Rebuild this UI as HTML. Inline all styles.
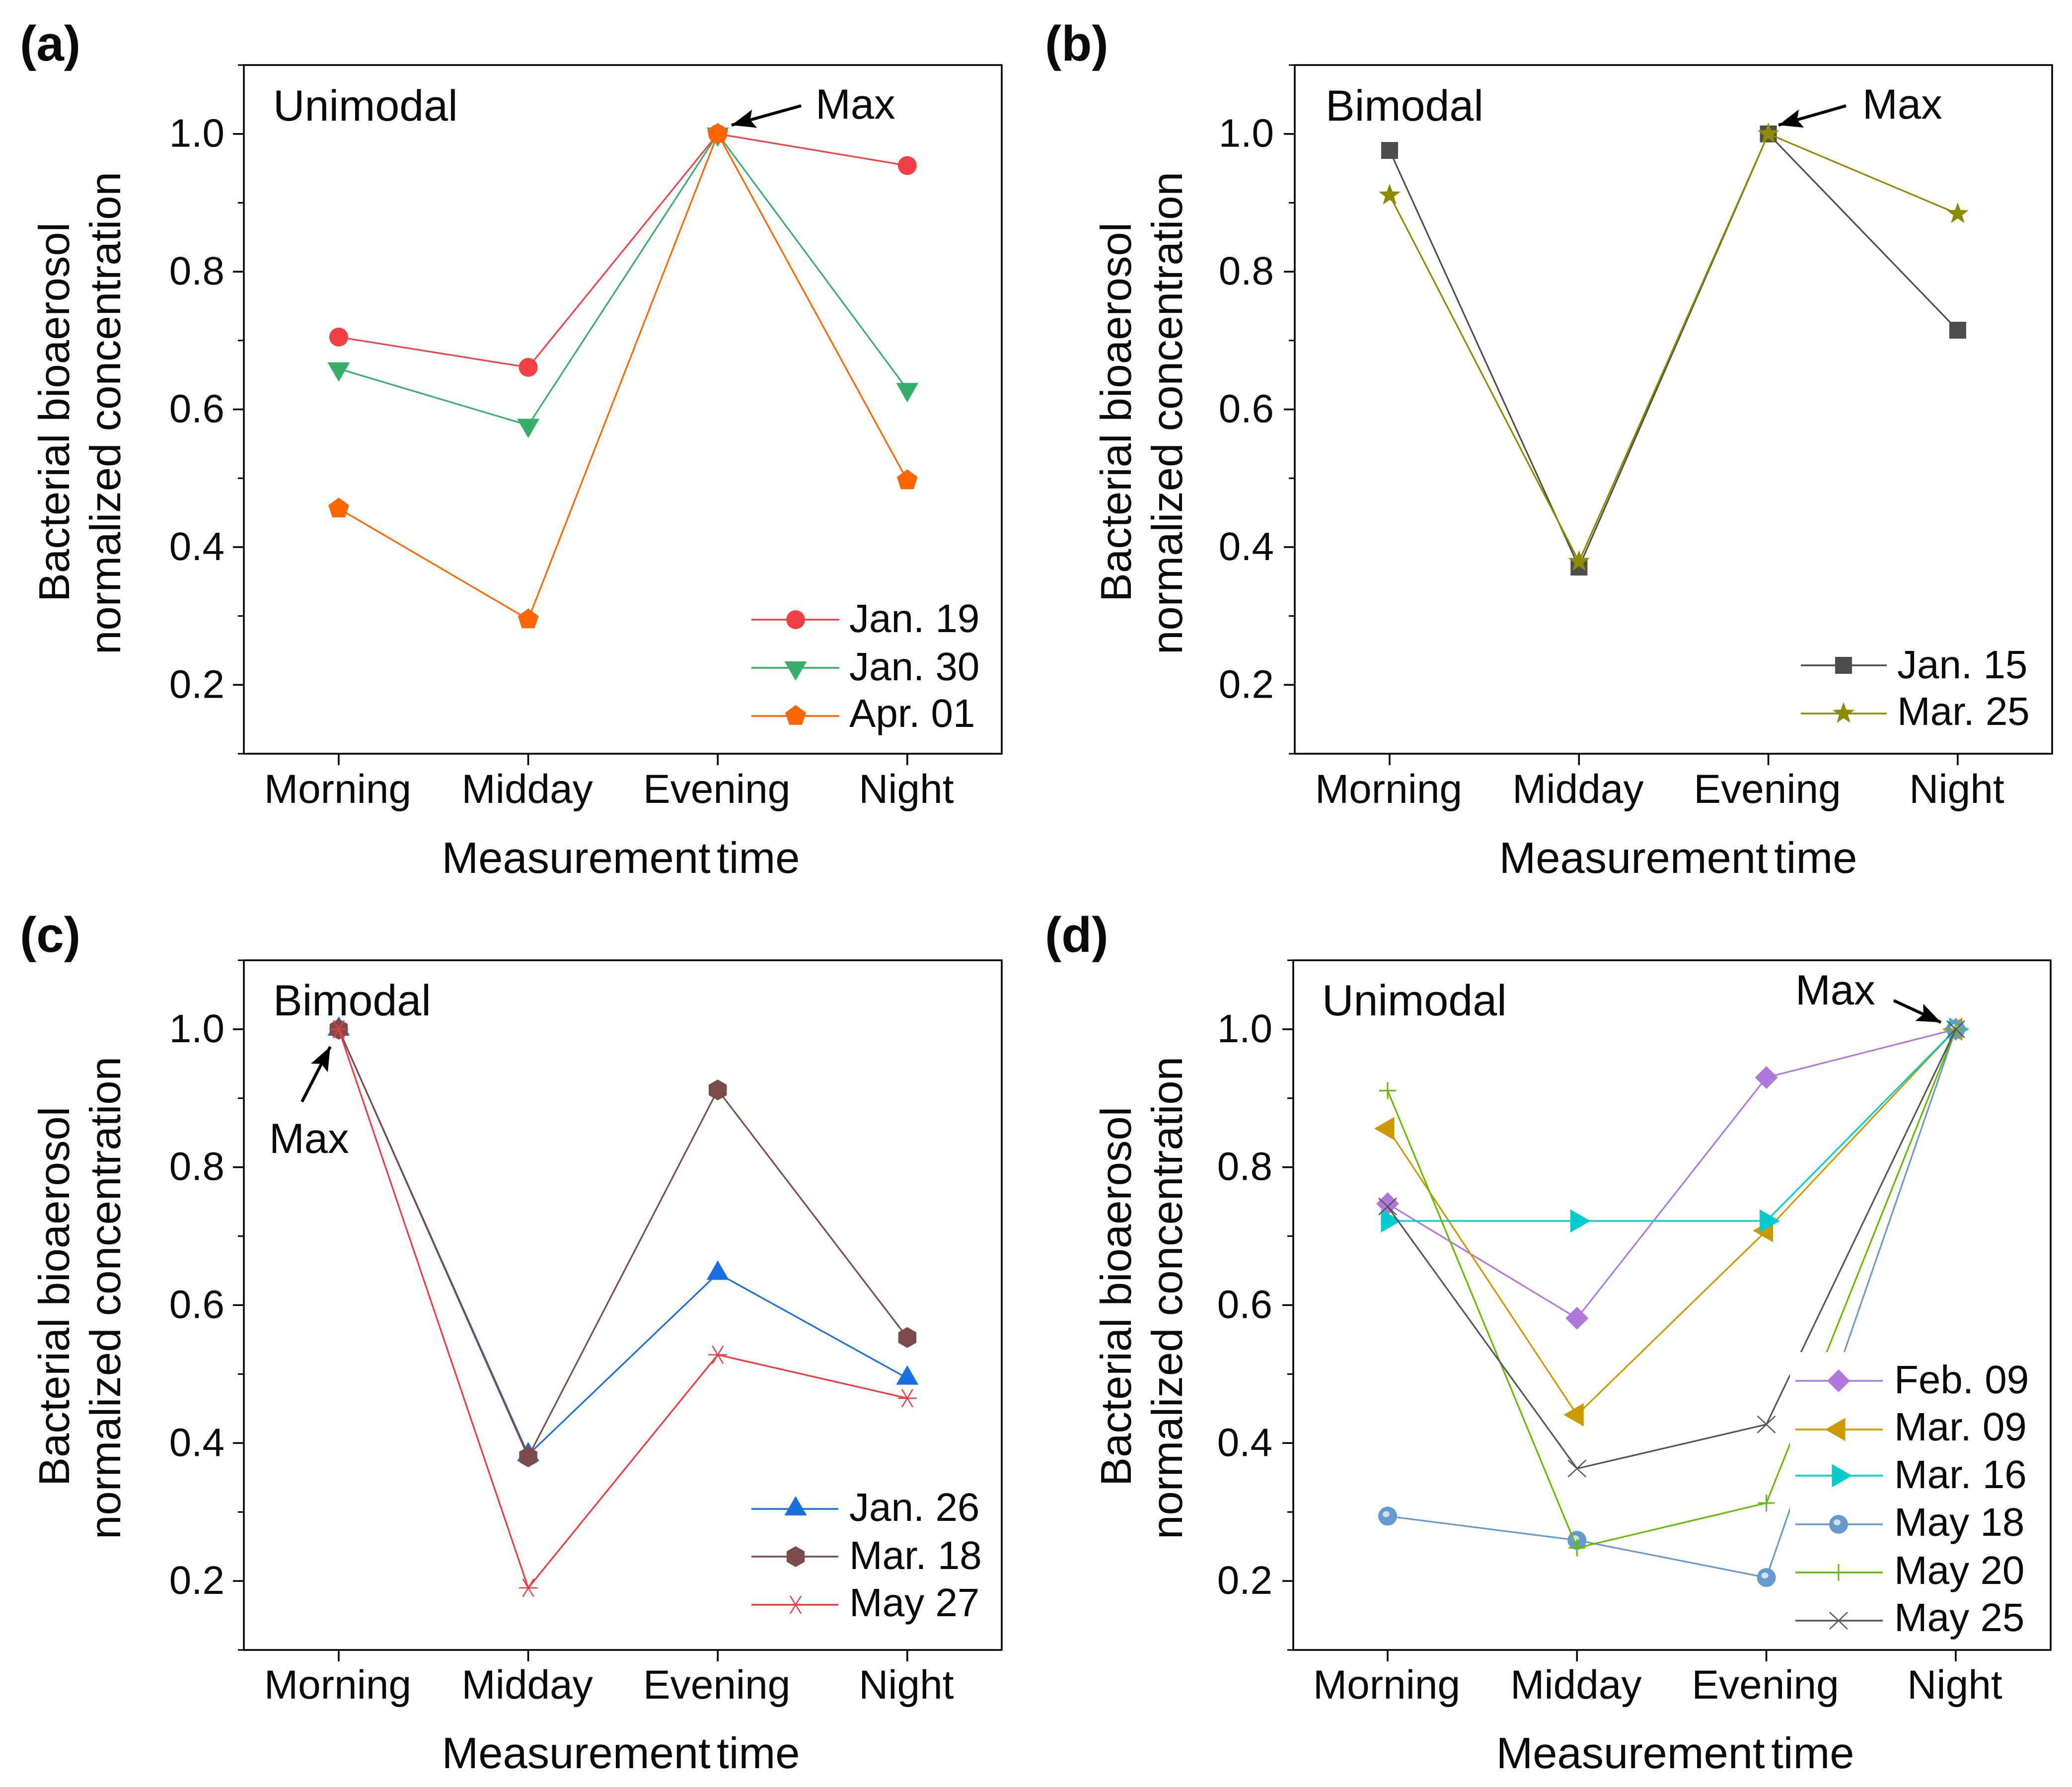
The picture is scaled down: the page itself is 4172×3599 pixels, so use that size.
<!DOCTYPE html>
<html lang="en">
<head>
<meta charset="utf-8">
<title>Bacterial bioaerosol normalized concentration</title>
<style>
html,body{margin:0;padding:0;background:#fff;}
svg{display:block;}
text{font-family:"Liberation Sans",sans-serif;fill:#0a0a0a;text-rendering:geometricPrecision;}
</style>
</head>
<body>
<svg id="figure" xmlns="http://www.w3.org/2000/svg" width="4172" height="3599" viewBox="0 0 4172 3599">
<defs>
<marker id="arrowhead" markerUnits="userSpaceOnUse" markerWidth="50" markerHeight="40" refX="48" refY="19" orient="auto">
<path d="M0 0 L48 19 L0 38 L9 19Z" fill="#000"/>
</marker>
</defs>
<rect width="4172" height="3599" fill="#fff"/>
<g id="panel-a"></g>
<g id="panel-b"></g>
<g id="panel-c"></g>
<g id="panel-d"></g>
<g id="annotations">
<text x="40" y="122" font-size="100" font-weight="bold">(a)</text>
<text x="2104" y="122" font-size="100" font-weight="bold">(b)</text>
<text x="40" y="1917" font-size="100" font-weight="bold">(c)</text>
<text x="2104" y="1917" font-size="100" font-weight="bold">(d)</text>
<text x="550" y="243" font-size="88">Unimodal</text>
<text x="2669" y="243" font-size="88">Bimodal</text>
<text x="550" y="2045" font-size="88">Bimodal</text>
<text x="2662" y="2045" font-size="88">Unimodal</text>
<text x="1642" y="239" font-size="85">Max</text>
<text x="3750" y="239" font-size="85">Max</text>
<text x="542" y="2322" font-size="85">Max</text>
<text x="3615" y="2023" font-size="85">Max</text>
<line x1="1613" y1="213" x2="1473" y2="252" stroke="#000" stroke-width="6" marker-end="url(#arrowhead)"/>
<line x1="3717" y1="213" x2="3581" y2="252" stroke="#000" stroke-width="6" marker-end="url(#arrowhead)"/>
<line x1="608" y1="2219" x2="665" y2="2108" stroke="#000" stroke-width="6" marker-end="url(#arrowhead)"/>
<line x1="3813" y1="2015" x2="3908" y2="2059" stroke="#000" stroke-width="6" marker-end="url(#arrowhead)"/>
</g>
</svg>
<script>
const categories = ['Morning', 'Midday', 'Evening', 'Night'];
const yMajorTicks = [0.2, 0.4, 0.6, 0.8, 1.0];
const yMinorTicks = [0.1, 0.3, 0.5, 0.7, 0.9, 1.1];
const yTickLabels = ['0.2', '0.4', '0.6', '0.8', '1.0'];
const yDomain = [0.1, 1.1];

const jan19 = [0.705, 0.661, 1.0, 0.954];
const jan30 = [0.659, 0.577, 1.0, 0.629];
const apr01 = [0.456, 0.295, 1.0, 0.497];

const jan15 = [0.976, 0.371, 1.0, 0.715];
const mar25 = [0.911, 0.379, 1.0, 0.884];

const jan26 = [1.0, 0.383, 0.646, 0.494];
const mar18 = [1.0, 0.380, 0.912, 0.553];
const may27 = [1.0, 0.190, 0.528, 0.465];

const feb09 = [0.747, 0.581, 0.930, 1.0];
const mar09 = [0.856, 0.441, 0.708, 1.0];
const mar16 = [0.722, 0.722, 0.722, 1.0];
const may18 = [0.294, 0.259, 0.205, 1.0];
const may20 = [0.911, 0.248, 0.313, 1.0];
const may25 = [0.743, 0.363, 0.427, 1.0];

const NS = 'http://www.w3.org/2000/svg';

function make(tag, attrs, parent) {
  const el = document.createElementNS(NS, tag);
  for (const k in attrs) el.setAttribute(k, attrs[k]);
  parent.appendChild(el);
  return el;
}

function polyPoints(cx, cy, r, n, startDeg) {
  const pts = [];
  for (let i = 0; i < n; i++) {
    const a = (startDeg + i * 360 / n) * Math.PI / 180;
    pts.push((cx + r * Math.cos(a)).toFixed(1) + ',' + (cy + r * Math.sin(a)).toFixed(1));
  }
  return pts.join(' ');
}

function starPoints(cx, cy, R, r) {
  const pts = [];
  for (let i = 0; i < 10; i++) {
    const a = (-90 + i * 36) * Math.PI / 180;
    const rad = i % 2 ? r : R;
    pts.push((cx + rad * Math.cos(a)).toFixed(1) + ',' + (cy + rad * Math.sin(a)).toFixed(1));
  }
  return pts.join(' ');
}

function drawMarker(kind, cx, cy, color, parent) {
  if (kind === 'circle') {
    make('circle', {cx: cx, cy: cy, r: 19, fill: color}, parent);
  } else if (kind === 'sphere') {
    make('circle', {cx: cx, cy: cy, r: 19, fill: color}, parent);
    make('ellipse', {cx: cx - 3, cy: cy - 4, rx: 7, ry: 6, fill: '#cfe0f0'}, parent);
  } else if (kind === 'square') {
    make('rect', {x: cx - 17, y: cy - 17, width: 34, height: 34, fill: color}, parent);
  } else if (kind === 'triDown') {
    make('polygon', {points: polyPoints(cx, cy, 26, 3, 90), fill: color}, parent);
  } else if (kind === 'triUp') {
    make('polygon', {points: polyPoints(cx, cy, 26, 3, -90), fill: color}, parent);
  } else if (kind === 'triLeft') {
    make('polygon', {points: polyPoints(cx, cy, 27, 3, 180), fill: color}, parent);
  } else if (kind === 'triRight') {
    make('polygon', {points: polyPoints(cx, cy, 27, 3, 0), fill: color}, parent);
  } else if (kind === 'pentagon') {
    make('polygon', {points: polyPoints(cx, cy, 22, 5, -90), fill: color}, parent);
  } else if (kind === 'hexagon') {
    make('polygon', {points: polyPoints(cx, cy, 21, 6, -90), fill: color}, parent);
  } else if (kind === 'diamond') {
    make('polygon', {points: polyPoints(cx, cy, 23, 4, 0), fill: color}, parent);
  } else if (kind === 'star') {
    make('polygon', {points: starPoints(cx, cy, 23, 9.5), fill: color}, parent);
  } else if (kind === 'plus') {
    make('path', {d: 'M' + (cx - 17) + ' ' + cy + 'H' + (cx + 17) + 'M' + cx + ' ' + (cy - 17) + 'V' + (cy + 17), stroke: color, 'stroke-width': 3, fill: 'none'}, parent);
  } else if (kind === 'cross') {
    make('path', {d: 'M' + (cx - 18) + ' ' + (cy - 17) + 'L' + (cx + 18) + ' ' + (cy + 17) + 'M' + (cx - 18) + ' ' + (cy + 17) + 'L' + (cx + 18) + ' ' + (cy - 17), stroke: color, 'stroke-width': 2.5, fill: 'none'}, parent);
  } else if (kind === 'asterisk') {
    make('path', {d: 'M' + (cx - 19) + ' ' + cy + 'H' + (cx + 19) + 'M' + (cx - 11) + ' ' + (cy - 18) + 'L' + (cx + 11) + ' ' + (cy + 18) + 'M' + (cx - 11) + ' ' + (cy + 18) + 'L' + (cx + 11) + ' ' + (cy - 18), stroke: color, 'stroke-width': 2.5, fill: 'none'}, parent);
  }
}

const panels = [
  {
    id: 'panel-a', left: 491, right: 2017, top: 131, bottom: 1518, firstX: 682, stepX: 381.6,
    yLabelEnd: 452, xLabelY: 1617, xTitleX: 1250, xTitleY: 1757,
    yTitleX1: 139, yTitleX2: 242, yTitleMid1: 830, yTitleMid2: 832,
    series: [
      {name: 'Jan. 19', values: jan19, color: '#F04246', marker: 'circle'},
      {name: 'Jan. 30', values: jan30, color: '#38AE6C', marker: 'triDown'},
      {name: 'Apr. 01', values: apr01, color: '#FF6600', marker: 'pentagon'}
    ],
    legend: {lineX1: 1513, lineX2: 1690, markerX: 1602, textX: 1710, rows: [1248, 1345, 1442], baselines: [1273, 1370, 1464]}
  },
  {
    id: 'panel-b', left: 2607, right: 4132, top: 131, bottom: 1518, firstX: 2798, stepX: 381.3,
    yLabelEnd: 2565, xLabelY: 1617, xTitleX: 3379, xTitleY: 1757,
    yTitleX1: 2277, yTitleX2: 2380, yTitleMid1: 830, yTitleMid2: 832,
    series: [
      {name: 'Jan. 15', values: jan15, color: '#4D4D4D', marker: 'square'},
      {name: 'Mar. 25', values: mar25, color: '#8B8B00', marker: 'star'}
    ],
    legend: {lineX1: 3626, lineX2: 3799, markerX: 3712, textX: 3820, rows: [1340, 1437], baselines: [1366, 1460]}
  },
  {
    id: 'panel-c', left: 491, right: 2017, top: 1934, bottom: 3323, firstX: 682, stepX: 381.6,
    yLabelEnd: 452, xLabelY: 3421, xTitleX: 1250, xTitleY: 3560,
    yTitleX1: 139, yTitleX2: 242, yTitleMid1: 2611, yTitleMid2: 2614,
    series: [
      {name: 'Jan. 26', values: jan26, color: '#1A6FE0', marker: 'triUp'},
      {name: 'Mar. 18', values: mar18, color: '#7B4B4B', marker: 'hexagon'},
      {name: 'May 27', values: may27, color: '#F03A3F', marker: 'asterisk'}
    ],
    legend: {lineX1: 1513, lineX2: 1688, markerX: 1602, textX: 1710, rows: [3039, 3135, 3232], baselines: [3063, 3160, 3255]}
  },
  {
    id: 'panel-d', left: 2604, right: 4129, top: 1934, bottom: 3323, firstX: 2794, stepX: 381.3,
    yLabelEnd: 2562, xLabelY: 3421, xTitleX: 3373, xTitleY: 3560,
    yTitleX1: 2277, yTitleX2: 2380, yTitleMid1: 2611, yTitleMid2: 2614,
    series: [
      {name: 'Feb. 09', values: feb09, color: '#B077DD', marker: 'diamond'},
      {name: 'Mar. 09', values: mar09, color: '#CC9900', marker: 'triLeft'},
      {name: 'Mar. 16', values: mar16, color: '#00CCCC', marker: 'triRight'},
      {name: 'May 18', values: may18, color: '#6699CC', marker: 'sphere'},
      {name: 'May 20', values: may20, color: '#66BB00', marker: 'plus'},
      {name: 'May 25', values: may25, color: '#555555', marker: 'cross'}
    ],
    legend: {box: {x: 3604, y: 2723, width: 500, height: 590}, lineX1: 3615, lineX2: 3791, markerX: 3702, textX: 3814, rows: [2781, 2879, 2972, 3070, 3167, 3264], baselines: [2806, 2901, 2997, 3093, 3190, 3285]}
  }
];

panels.forEach(function (p) {
  const root = document.getElementById(p.id);
  const xScale = function (i) { return p.firstX + i * p.stepX; };
  const yScale = function (v) { return p.bottom - (v - yDomain[0]) / (yDomain[1] - yDomain[0]) * (p.bottom - p.top); };

  // series
  p.series.forEach(function (s) {
    const line = make('polyline', {
      points: s.values.map(function (v, i) { return xScale(i) + ',' + yScale(v).toFixed(1); }).join(' '),
      fill: 'none', stroke: s.color, 'stroke-width': 3.2
    }, root);
    
    
    s.values.forEach(function (v, i) {
      const g = make('g', {}, root);
      
      
      drawMarker(s.marker, xScale(i), yScale(v), s.color, g);
    });
  });

  // legend
  const legend = make('g', {}, root);
  
  
  if (p.legend.box) {
    const bg = make('rect', {x: p.legend.box.x, y: p.legend.box.y, width: p.legend.box.width, height: p.legend.box.height, fill: '#fff'}, legend);
    
    
  }
  p.series.forEach(function (s, i) {
    const entry = make('g', {}, legend);
    
    
    const y = p.legend.rows[i];
    make('line', {x1: p.legend.lineX1, x2: p.legend.lineX2, y1: y, y2: y, stroke: s.color, 'stroke-width': 3.6}, entry);
    drawMarker(s.marker, p.legend.markerX, y, s.color, entry);
    const t = make('text', {x: p.legend.textX, y: p.legend.baselines[i], 'font-size': 80}, entry);
    t.textContent = s.name;
  });

  // frame
  const frame = make('rect', {x: p.left, y: p.top, width: p.right - p.left, height: p.bottom - p.top, fill: 'none', stroke: '#000', 'stroke-width': 3.5}, root);
  
  

  // y axis
  yMajorTicks.forEach(function (v, i) {
    const y = yScale(v);
    const tick = make('line', {x1: p.left - 22, x2: p.left, y1: y, y2: y, stroke: '#000', 'stroke-width': 3.5}, root);
    
    
    const label = make('text', {x: p.yLabelEnd, y: y + 26, 'font-size': 80, 'text-anchor': 'end'}, root);
    
    
    label.textContent = yTickLabels[i];
  });
  yMinorTicks.forEach(function (v) {
    const y = yScale(v);
    const tick = make('line', {x1: p.left - 12, x2: p.left, y1: y, y2: y, stroke: '#000', 'stroke-width': 3}, root);
    
    
  });

  // x axis
  categories.forEach(function (c, i) {
    const x = xScale(i);
    const tick = make('line', {x1: x, x2: x, y1: p.bottom, y2: p.bottom + 23, stroke: '#000', 'stroke-width': 3.5}, root);
    
    
    const label = make('text', {x: x - 2, y: p.xLabelY, 'font-size': 82, 'text-anchor': 'middle'}, root);
    
    
    label.textContent = c;
  });

  // axis titles
  const xTitle = make('text', {x: p.xTitleX, y: p.xTitleY + 1, 'font-size': 88.5, 'text-anchor': 'middle', 'word-spacing': -12}, root);
  
  
  xTitle.textContent = 'Measurement time';

  const yTitle1 = make('text', {transform: 'translate(' + p.yTitleX1 + ',' + p.yTitleMid1 + ') rotate(-90)', 'font-size': 87, 'text-anchor': 'middle'}, root);
  
  
  yTitle1.textContent = 'Bacterial bioaerosol';

  const yTitle2 = make('text', {transform: 'translate(' + p.yTitleX2 + ',' + p.yTitleMid2 + ') rotate(-90)', 'font-size': 87, 'text-anchor': 'middle'}, root);
  
  
  yTitle2.textContent = 'normalized concentration';
});
</script>
</body>
</html>
